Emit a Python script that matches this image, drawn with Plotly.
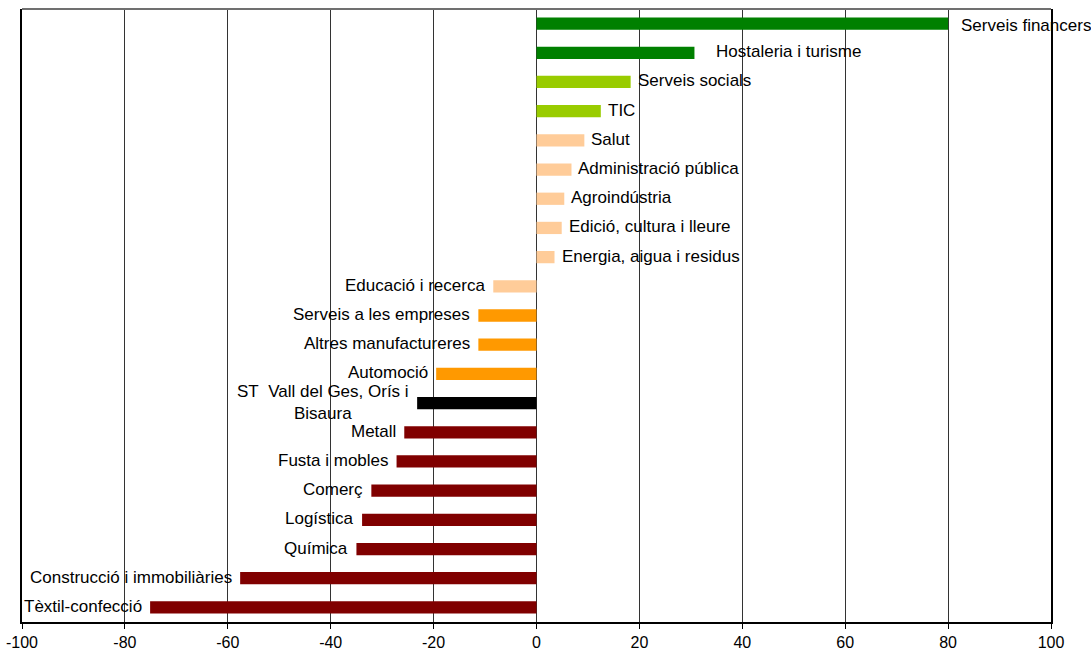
import plotly.graph_objects as go

DARK_GREEN = "#008000"
LIME = "#99CC00"
PEACH = "#FFCC99"
ORANGE = "#FF9900"
BLACK = "#000000"
MAROON = "#800000"
TEXT = "#000000"
FONT = "Liberation Sans, Arial, sans-serif"

sectors = [
    "Serveis financers", "Hostaleria i turisme", "Serveis socials", "TIC", "Salut",
    "Administració pública", "Agroindústria", "Edició, cultura i lleure",
    "Energia, aigua i residus", "Educació i recerca", "Serveis a les empreses",
    "Altres manufactureres", "Automoció", "ST  Vall del Ges, Orís i Bisaura", "Metall",
    "Fusta i mobles", "Comerç", "Logística", "Química",
    "Construcció i immobiliàries", "Tèxtil-confecció",
]
values = [80.0, 30.7, 18.3, 12.5, 9.3, 6.8, 5.4, 4.9, 3.5, -8.4, -11.3, -11.3,
          -19.5, -23.2, -25.7, -27.2, -32.1, -33.9, -35.0, -57.6, -75.1]
groups = ["top", "top", "high", "high", "mid", "mid", "mid", "mid", "mid", "mid",
          "low", "low", "low", "total", "bottom", "bottom", "bottom", "bottom",
          "bottom", "bottom", "bottom"]
x_ticks = [-100, -80, -60, -40, -20, 0, 20, 40, 60, 80, 100]
x_tick_text = ["-100", "-80", "-60", "-40", "-20", "0", "20", "40", "60", "80", "100"]

group_colors = {"top": DARK_GREEN, "high": LIME, "mid": PEACH, "low": ORANGE,
                "total": BLACK, "bottom": MAROON}

fig = go.Figure(go.Bar(
    x=values, y=sectors, orientation="h", width=0.42,
    marker=dict(color=[group_colors[g] for g in groups], line=dict(width=0)),
    hoverinfo="x+y",
))

# etiquetes al costat de cada barra, com a l'Excel
for name, val in zip(sectors, values):
    text = name
    if name.startswith("ST "):
        text = "ST\u00a0 Vall del Ges, Orís i<br>Bisaura"
    pos = val >= 0
    shift = 11 if name == "Serveis financers" else 20 if name.startswith("Hostaleria") else 5
    fig.add_annotation(
        x=val, y=name, text=text, showarrow=False,
        xanchor="left" if pos else "right", xshift=shift if pos else -6,
        yshift=-2 if name == "Serveis financers" else 1,
        align="center", font=dict(family=FONT, size=17, color=TEXT),
    )

fig.update_layout(
    width=1091, height=656,
    margin=dict(l=22, r=40, t=9, b=34),
    plot_bgcolor="white", paper_bgcolor="white",
    font=dict(family=FONT, size=16, color=TEXT),
    showlegend=False,
)
fig.update_xaxes(
    range=[-100, 100], tickvals=x_ticks, ticktext=x_tick_text, ticks="outside",
    ticklen=5, tickcolor="black", automargin=False, ticklabeloverflow="allow",
    showgrid=True, gridcolor="#333333", gridwidth=1, zeroline=False,
    showline=True, linecolor="black", linewidth=1.5, tickfont=dict(size=16),
)
fig.update_yaxes(
    autorange="reversed", showticklabels=False, showgrid=False, zeroline=False,
    showline=True, linecolor="black", linewidth=1.5, mirror=True, ticks="",
    automargin=False,
)
fig.add_shape(type="line", xref="paper", yref="paper", x0=0, x1=1, y0=1, y1=1,
              line=dict(color="#707070", width=2))

# sense el marge de 8px que el navegador posa al body
fig.write_html("out.html", config={"displayModeBar": False},
               post_script="document.body.style.margin = '0';")
